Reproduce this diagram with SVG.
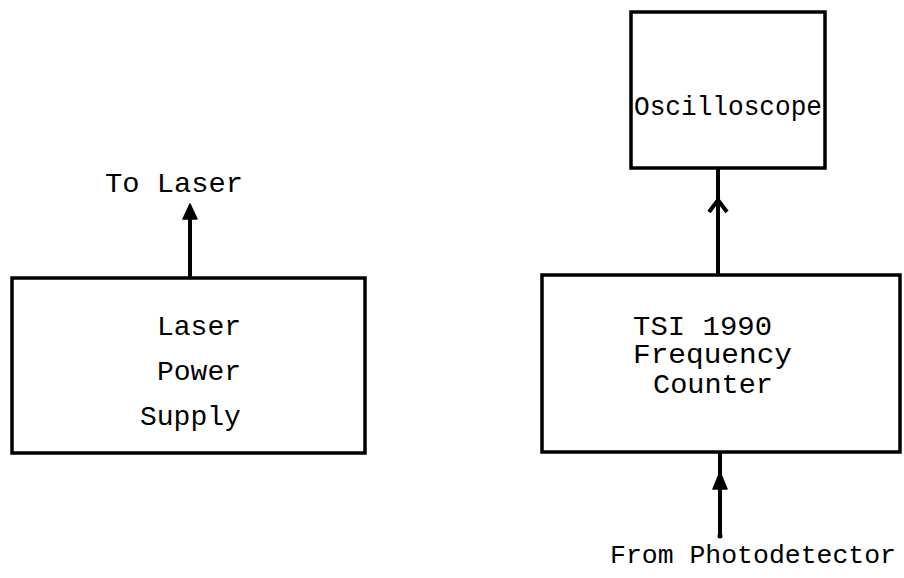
<svg xmlns="http://www.w3.org/2000/svg" width="904" height="578" viewBox="0 0 904 578">
<style>
.box{fill:#fff;stroke:#000;stroke-width:3.5}
.t{font-family:"Liberation Mono","DejaVu Sans Mono",monospace;font-size:28px;fill:#000}
.ln{stroke:#000;stroke-width:4;fill:none}
.s{font-size:26px}
</style>
<rect width="904" height="578" fill="#fff"/>
<g id="connectors">
<line class="ln" x1="190" y1="278" x2="190" y2="214"/>
<polygon points="190,204 183,219 197,219" fill="#000" stroke="#000" stroke-width="1.5" stroke-linejoin="round"/>
<line class="ln" x1="718" y1="275" x2="718" y2="168"/>
<polyline class="ln" points="709,212 718,200 727,212" stroke-width="4.5"/>
<line class="ln" x1="720" y1="452" x2="720" y2="536"/>
<circle cx="720" cy="536" r="2.5" fill="#000"/>
<polygon points="720,472 713,489 727,489" fill="#000" stroke="#000" stroke-width="1.5" stroke-linejoin="round"/>
</g>
<g id="laser-power-supply">
<rect class="box" x="12" y="278" width="353" height="175"/>
<text class="t" x="157" y="335">Laser</text>
<text class="t" x="157" y="380">Power</text>
<text class="t" x="140" y="425">Supply</text>
</g>
<g id="to-laser">
<text class="t" x="105" y="192" textLength="138" lengthAdjust="spacingAndGlyphs">To Laser</text>
</g>
<g id="oscilloscope">
<rect class="box" x="631" y="12" width="194" height="156"/>
<text class="t" x="634" y="115" textLength="188" lengthAdjust="spacingAndGlyphs">Oscilloscope</text>
</g>
<g id="frequency-counter">
<rect class="box" x="542" y="275" width="358" height="177"/>
<text class="t" x="633" y="335" textLength="139" lengthAdjust="spacingAndGlyphs">TSI 1990</text>
<text class="t" x="633" y="363" textLength="159" lengthAdjust="spacingAndGlyphs">Frequency</text>
<text class="t" x="653" y="393" textLength="120" lengthAdjust="spacingAndGlyphs">Counter</text>
</g>
<g id="from-photodetector">
<text class="t s" x="610" y="563" textLength="286" lengthAdjust="spacingAndGlyphs">From Photodetector</text>
</g>
</svg>
